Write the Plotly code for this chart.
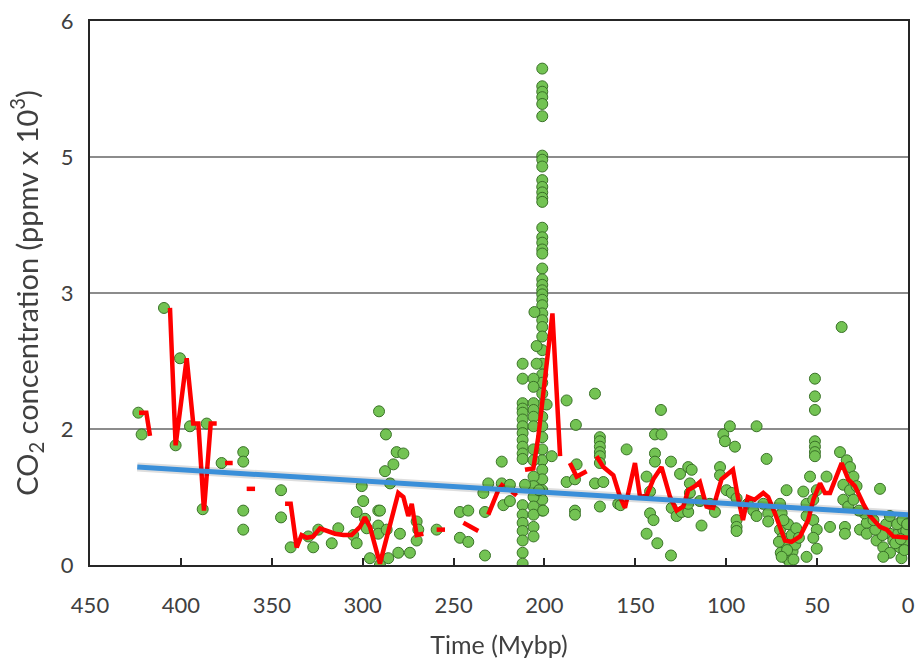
import plotly.graph_objects as go

# ---- data (y in axis position units; tick labels below) ----
y_tickvals = [0, 1, 2, 3, 4]
y_ticktext = ["0", "2", "3", "5", "6"]
x_tickvals = [0, 50, 100, 150, 200, 250, 300, 350, 400, 450]

spike_x = [201.2] * 46
spike_y = [3.65, 3.52, 3.48, 3.44, 3.39, 3.30, 3.01, 2.98, 2.93, 2.83, 2.78, 2.74, 2.70, 2.67,
           2.48, 2.41, 2.37, 2.32, 2.29, 2.18, 2.10, 2.06, 2.02, 1.99, 1.95, 1.91, 1.85, 1.80,
           1.75, 1.68, 1.58, 1.48, 1.40, 1.34, 1.26, 1.18, 1.09, 1.02, 0.94, 0.85, 0.77, 0.70,
           0.63, 0.55, 0.48, 0.40]
col212_y = [1.48, 1.37, 1.19, 1.15, 1.12, 1.07, 1.02, 0.97, 0.92, 0.87, 0.82, 0.78, 0.44,
            0.37, 0.31, 0.25, 0.18, 0.09, 0.01]
col212_x = [212.0] * len(col212_y)
col206_y = [1.37, 1.31, 1.19, 1.14, 1.09, 1.02, 0.85, 0.77, 0.65, 0.58, 0.50, 0.43, 0.37, 0.28, 0.21]
col206_x = [206.0] * len(col206_y)

other_x = [423.4, 421.6, 409.3, 400.5, 402.9, 395.0, 385.8, 388.0, 377.6, 365.7, 365.7, 365.7, 365.7,
           344.9, 344.9, 339.6, 329.9, 327.2, 324.4, 317.0, 313.4, 305.2, 303.3, 300.5, 299.7, 303.3,
           298.7, 297.8, 296.0, 291.0, 291.4, 291.4,
           287.2, 287.7, 283.1, 284.9, 281.3, 277.6, 290.5, 291.4, 286.8, 285.9, 290.5, 279.5, 280.4,
           274.0, 270.3, 269.4, 270.3, 259.3, 246.5, 241.9, 246.5, 241.9, 232.7, 233.6, 232.7, 223.5,
           223.5, 219.0, 222.6, 219.0, 230.9, 210.7,
           204.3, 204.3, 205.5, 198.8, 196.0, 187.8, 182.7, 182.3, 187.8, 183.2, 183.2, 183.2, 172.2,
           169.5, 169.5, 169.5, 169.5, 169.5, 169.5, 172.2, 169.5, 167.6, 159.4, 200.7, 203.0,
           154.8, 158.1, 135.9, 139.2, 135.6, 139.2, 139.2, 130.4, 143.8, 141.9, 141.9, 140.0, 143.8,
           137.9, 130.4, 125.4, 120.9, 119.0, 120.0, 120.0, 130.0, 127.3, 124.5, 120.9, 120.9, 113.6,
           114.5, 109.0, 106.2, 103.4, 103.4, 101.6, 100.7, 98.0, 95.2, 83.3, 77.8, 99.8, 97.0, 94.3,
           94.3, 94.3, 94.3, 88.1, 85.1, 83.3, 79.6, 76.9, 76.9, 70.4, 69.5, 66.8,
           70.4, 69.0, 68.0, 70.0, 67.0, 65.0, 63.5, 66.0, 64.0, 62.0, 71.0, 68.5, 63.0, 66.5, 69.5,
           61.5, 60.0,
           57.6, 55.8, 53.9, 50.2, 52.1, 51.2, 51.2, 51.2, 51.2, 51.2, 51.2, 51.2,
           55.8, 52.1, 50.2, 52.1, 50.2, 55.8, 44.8, 42.9, 36.5, 37.4, 33.7, 31.9, 35.6, 31.9, 30.0,
           35.6, 32.9, 30.0, 34.7, 34.7, 28.3, 26.4, 22.7, 22.7, 15.4,
           17.3, 13.6, 9.9, 8.1, 5.4, 4.5, 2.6, 0.8, 0.3, 3.6, 9.9, 13.6,
           6.0, 3.0, 12.0, 7.0, 1.0, 2.0, 10.0, 14.0, 18.0, 4.0, 0.5, 24.0, 19.0, 27.0]
other_y = [1.12, 0.96, 1.89, 1.52, 0.88, 1.02, 1.04, 0.41, 0.75, 0.83, 0.76, 0.40, 0.26,
           0.55, 0.35, 0.13, 0.21, 0.13, 0.26, 0.16, 0.27, 0.22, 0.16, 0.58, 0.47, 0.39,
           0.34, 0.27, 0.05, 1.13, 0.40, 0.29,
           0.96, 0.69, 0.74, 0.60, 0.83, 0.82, 0.40, 0.23, 0.26, 0.05, 0.00, 0.23, 0.09,
           0.09, 0.32, 0.26, 0.18, 0.26, 0.39, 0.40, 0.20, 0.17, 0.07, 0.53, 0.39, 0.76,
           0.60, 0.59, 0.44, 0.47, 0.60, 0.59,
           1.48, 1.61, 1.86, 1.18, 0.80, 1.21, 1.03, 0.74, 0.61, 0.63, 0.40, 0.37, 1.26,
           0.94, 0.91, 0.87, 0.83, 0.80, 0.75, 0.60, 0.43, 0.61, 0.45, 0.40, 0.55,
           0.85, 0.44, 1.14, 0.96, 0.96, 0.82, 0.76, 0.76, 0.65, 0.54, 0.38, 0.33, 0.23,
           0.16, 0.07, 0.67, 0.72, 0.70, 0.60, 0.53, 0.42, 0.36, 0.39, 0.39, 0.45, 0.29,
           0.47, 0.45, 0.39, 0.72, 0.66, 0.96, 0.91, 1.02, 0.87, 1.02, 0.78, 0.55, 0.53, 0.49,
           0.33, 0.28, 0.25, 0.45, 0.40, 0.36, 0.45, 0.38, 0.32, 0.45, 0.38, 0.55,
           0.26, 0.20, 0.14, 0.09, 0.05, 0.02, 0.10, 0.30, 0.22, 0.15, 0.17, 0.33, 0.04, 0.11, 0.06,
           0.27, 0.20,
           0.54, 0.45, 0.65, 0.55, 0.48, 1.37, 1.24, 1.14, 0.91, 0.87, 0.83, 0.80,
           0.36, 0.33, 0.26, 0.20, 0.12, 0.06, 0.65, 0.28, 1.75, 0.83, 0.77, 0.72, 0.59, 0.55, 0.65,
           0.48, 0.43, 0.48, 0.28, 0.23, 0.58, 0.26, 0.31, 0.23, 0.56,
           0.18, 0.13, 0.23, 0.18, 0.23, 0.13, 0.26, 0.21, 0.16, 0.05, 0.09, 0.06,
           0.30, 0.33, 0.30, 0.16, 0.25, 0.11, 0.36, 0.22, 0.26, 0.19, 0.30, 0.38, 0.33, 0.40]

# smoothed (red) curve, None = gap
red_x = [423, 419, 417, None,
         406, 402.9, 396.8, 393.2, 390.4, 387.3, 383.6, 380.3, None,
         375.7, 371.5, None,
         363.8, 359.2, None,
         342.7, 339.6, 336.3, 333.6, 330.8, 327.2, 323.5, 318.9, 315.2, 310.6, 306.1, 301.5,
         298.8, 296, 293.5, 290.5, 280.4, 277.6, 274.9, 273, 270.3, 266.6, None,
         259.3, 254.7, None,
         244.6, 241, 236.4, None,
         230.9, 225.4, 222.6, None,
         218, 215.3, None,
         210.7, 206.1, 203.4, 195.6, 191.4, None,
         186, 182.3, 176.8, None,
         171.3, 167.6, 162.1, 158.4, 155.7, 150.2, 147.4, 143.8, 140.1, 135.6, 130.9, 127.3,
         123.6, 120.9, 117.2, 114.5, 110.8, 107.2, 102.6, 96.3, 93.6, 90.8, 88.1, 84.4, 79.6,
         76.9, 73.2, 67.7, 64.1, 59.4, 54.9, 52.1, 48.4, 45.7, 42.9, 40.2, 36.5, 32.9, 29.2,
         24.6, 20.9, 15.4, 11.7, 8.1, 2.6, 0]
red_y = [1.12, 1.12, 0.95, None,
         1.89, 0.88, 1.52, 1.04, 1.04, 0.40, 1.04, 1.04, None,
         0.75, 0.75, None,
         0.56, 0.56, None,
         0.45, 0.45, 0.13, 0.22, 0.20, 0.21, 0.27, 0.25, 0.23, 0.22, 0.22, 0.28,
         0.35, 0.28, 0.15, 0.01, 0.53, 0.50, 0.36, 0.45, 0.22, 0.23, None,
         0.26, 0.26, None,
         0.31, 0.28, 0.25, None,
         0.37, 0.55, 0.60, None,
         0.54, 0.51, None,
         0.70, 0.71, 0.94, 1.85, 0.80, None,
         0.75, 0.65, 0.69, None,
         0.80, 0.72, 0.66, 0.50, 0.42, 0.75, 0.50, 0.51, 0.63, 0.72, 0.50, 0.40,
         0.43, 0.55, 0.58, 0.61, 0.43, 0.42, 0.63, 0.70, 0.50, 0.33, 0.50, 0.48, 0.53,
         0.50, 0.38, 0.18, 0.17, 0.21, 0.33, 0.48, 0.60, 0.53, 0.53, 0.63, 0.75, 0.63, 0.58,
         0.45, 0.36, 0.28, 0.26, 0.21, 0.20, 0.20]

trend_x = [424, 0]
trend_y = [0.72, 0.37]

pts_x = spike_x + col212_x + col206_x + other_x
pts_y = spike_y + col212_y + col206_y + other_y

fig = go.Figure()
fig.add_trace(go.Scatter(
    x=pts_x, y=pts_y, mode="markers",
    marker=dict(size=11, color="#6cc04a", line=dict(color="#2f6a1c", width=1)),
    opacity=0.95, hoverinfo="skip"))
fig.add_trace(go.Scatter(
    x=red_x, y=red_y, mode="lines", connectgaps=False,
    line=dict(color="#ff0000", width=4.5), hoverinfo="skip"))
fig.add_trace(go.Scatter(
    x=trend_x, y=trend_y, mode="lines",
    line=dict(color="rgba(0,0,0,0.13)", width=9), hoverinfo="skip"))
fig.add_trace(go.Scatter(
    x=trend_x, y=trend_y, mode="lines",
    line=dict(color="#3a8fd9", width=5), hoverinfo="skip"))

font_family = "Lato, 'Open Sans', sans-serif"
fig.update_layout(
    width=918, height=662,
    margin=dict(l=90, r=10, t=21, b=97, autoexpand=False),
    paper_bgcolor="white", plot_bgcolor="white",
    showlegend=False,
    font=dict(family=font_family, color="#404040", size=22),
    xaxis=dict(
        range=[450, 0], tickvals=x_tickvals, ticks="inside", ticklen=7, tickwidth=1.5,
        tickcolor="#262626", showline=True, linecolor="#262626", linewidth=2, mirror=True,
        showgrid=False, zeroline=False, ticklabelstandoff=20, automargin=False,
        ticklabeloverflow="allow",
        tickfont=dict(size=22, color="#404040"),
        title=dict(text="Time (Mybp)", font=dict(size=25, color="#404040"), standoff=19)),
    yaxis=dict(
        range=[0, 4], tickvals=y_tickvals, ticktext=y_ticktext, ticks="",
        showline=True, linecolor="#262626", linewidth=2, mirror=True,
        showgrid=True, gridcolor="#8c8c8c", gridwidth=1.5, zeroline=False,
        ticklabelstandoff=10, automargin=False, ticklabeloverflow="allow",
        tickfont=dict(size=22, color="#404040"),
        title=dict(text="CO<sub>2</sub> concentration (ppmv x 10<sup>3</sup>)",
                   font=dict(size=29, color="#404040"), standoff=14)),
)

# remove the default page margin so the 918x662 figure fills the window exactly
page_fix = ("document.body.style.margin='0';"
            "document.documentElement.style.overflow='hidden';"
            "document.body.style.overflow='hidden';")
fig.write_html("out.html", post_script=page_fix, config={"displayModeBar": False})
